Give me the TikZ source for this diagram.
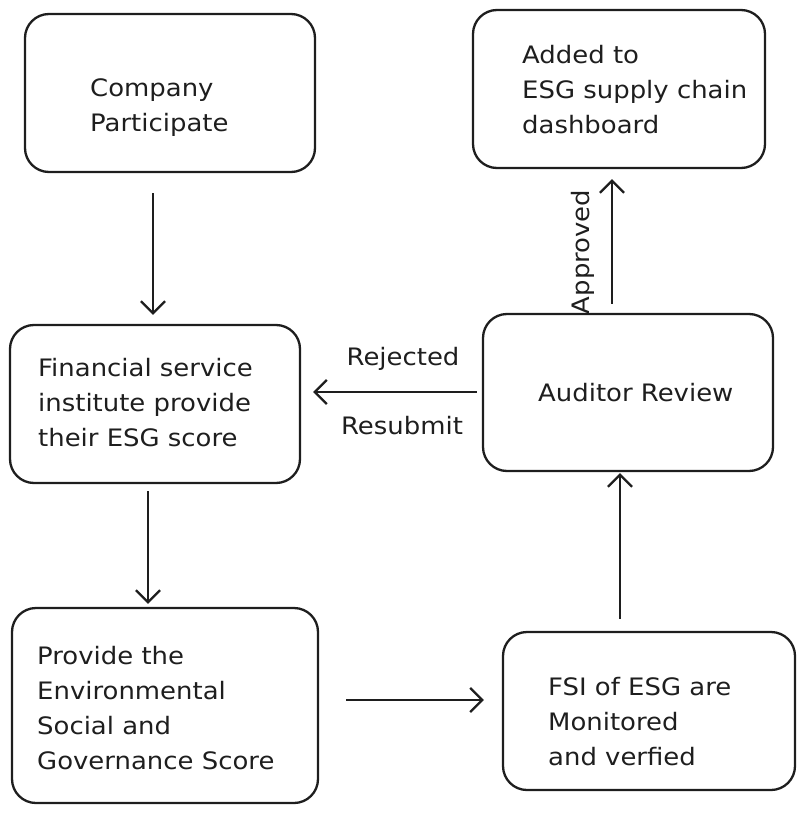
\documentclass[tikz,border=0pt]{standalone}
\usepackage{fontspec}
\setmainfont[FakeStretch=1.08]{DejaVu Sans}
\usetikzlibrary{arrows.meta}
\definecolor{ink}{HTML}{1E1E1E}
\begin{document}
\begin{tikzpicture}[x=1pt,y=-1pt,
  box/.style={draw=ink,line width=2.3pt,rounded corners=24pt,inner sep=0pt},
  txt/.style={anchor=north west,inner sep=0pt,align=left,text=ink,font=\fontsize{24}{35}\selectfont},
  lbl/.style={inner sep=0pt,text=ink,font=\fontsize{24}{35}\selectfont},
  arr/.style={draw=ink,line width=2.3pt,-{Straight Barb[length=12pt,width=24pt,line width=2.3pt]}}]
\useasboundingbox (0,0) rectangle (804,813);
% boxes
\node[box,minimum width=290pt,minimum height=158pt] (cp) at (170,93) {};
\node[box,minimum width=292pt,minimum height=158pt] (ad) at (619,89) {};
\node[box,minimum width=290pt,minimum height=158pt] (fs) at (155,404) {};
\node[box,minimum width=290pt,minimum height=157pt] (ar) at (628,392.5) {};
\node[box,minimum width=306pt,minimum height=195pt] (pv) at (165,705.5) {};
\node[box,minimum width=292pt,minimum height=158pt] (fm) at (649,711) {};
% texts
\node[txt] (tcp) at (90,78) {Company\\Participate};
\node[txt] (tad) at (522,45) {Added to\\ESG supply chain\\dashboard};
\node[txt] (tfs) at (38,358) {Financial service\\institute provide\\their ESG score};
\node[txt] (tar) at (538,383) {Auditor Review};
\node[txt] (tpv) at (37,646) {Provide the\\Environmental\\Social and\\Governance Score};
\node[txt] (tfm) at (548,677) {FSI of ESG are\\Monitored\\and verfied};
% connectors
\draw[arr,shorten <=20pt,shorten >=9pt] ([xshift=-17pt]cp.south) -- ([xshift=-2pt]fs.north);
\draw[arr,shorten <=7pt,shorten >=3pt] ([xshift=-7pt]fs.south) -- ([xshift=-17pt]pv.north);
\draw[arr,shorten <=27pt,shorten >=18pt] (pv.east |- 0,700) -- (fm.west |- 0,700);
\draw[arr,shorten <=12pt,shorten >=1pt] ([xshift=-29pt]fm.north) -- ([xshift=-8pt]ar.south);
\draw[arr,shorten <=5pt,shorten >=12pt] (ar.west |- 0,392) -- (fs.east |- 0,392);
\draw[arr,shorten <=9pt,shorten >=10pt] ([xshift=-16pt]ar.north) -- ([xshift=-7pt]ad.south);
% labels
\node[lbl,anchor=base] (lrj) at (403,365) {Rejected};
\node[lbl,anchor=base] (lrs) at (402,434) {Resubmit};
\node[lbl,rotate=90,anchor=base] (lap) at (589,252) {Approved};
\end{tikzpicture}
\end{document}
